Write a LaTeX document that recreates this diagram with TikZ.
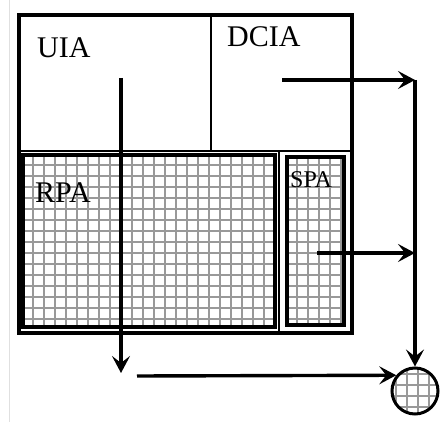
\documentclass[tikz,border=0pt]{standalone}
\usepackage{fontspec}
\setmainfont{Liberation Serif}
\usetikzlibrary{arrows.meta}
\begin{document}
\begin{tikzpicture}[x=1pt,y=-1pt,
  frame/.style={draw=black,line width=3.2pt,inner sep=0pt,outer sep=0pt,anchor=north west},
  inbox/.style={draw=black,line width=3.2pt,inner sep=0pt,outer sep=0pt,anchor=north west},
  divider/.style={draw=black,line width=2.6pt},
  gridline/.style={draw=black!40,line width=1.3pt},
  lbl/.style={inner sep=0pt,anchor=base west,font=\fontsize{30}{30}\selectfont},
  arr/.style={draw=black,line width=3.4pt,-{Stealth[length=17pt,width=18pt,inset=7pt]}}]
\useasboundingbox (0,0) rectangle (440,422);
\fill[white] (0,0) rectangle (440,422);
\draw[black!12,line width=0.8pt] (9,0) -- (9,422);

% grids
\begin{scope}
  \clip (23,155) rectangle (275,327);
  \draw[gridline] (0,422) grid[step=11pt] (440,0);
\end{scope}
\begin{scope}
  \clip (287,157) rectangle (344,325);
  \draw[gridline] (0,422) grid[step=11pt] (440,0);
\end{scope}
\begin{scope}
  \clip (415,391) circle[radius=23];
  \draw[gridline] (0,422) grid[step=11pt] (440,0);
\end{scope}

% boxes
\node[frame,minimum width=333pt,minimum height=318pt] (outer) at (19,15) {};
\node[inbox,minimum width=252pt,minimum height=172pt] (rpa) at (23,155) {};
\node[inbox,minimum width=57pt,minimum height=168pt] (spa) at (287,157) {};
\node[draw=black,line width=3pt,circle,minimum size=46pt,inner sep=0pt] (circ) at (415,391) {};

% dividers
\coordinate (d1a) at (19,151);
\coordinate (d1b) at (352,151);
\draw[divider] (d1a) -- (d1b);
\coordinate (d2a) at (211,15);
\coordinate (d2b) at (211,151);
\draw[divider] (d2a) -- (d2b);
\coordinate (d3a) at (279,151);
\coordinate (d3b) at (279,333);
\draw[divider] (d3a) -- (d3b);

% labels
\node[lbl] (uia) at (37,58) {UIA};
\node[lbl] (dcia) at (227,47) {DCIA};
\node[lbl] (rpal) at (35,203) {RPA};
\node[lbl,font=\fontsize{24}{24}\selectfont] (spal) at (290,188) {SPA};

% connectors
\coordinate (uS) at (121,78);
\coordinate (uE) at (121,373);
\draw[arr] (uS) -- (uE);

\coordinate (bS) at (137,376);
\draw[arr] (bS) -- (circ.140);

\coordinate (dS) at (282,80);
\coordinate (corner) at (415,80);
\draw[arr] (dS) -- (corner);
\draw[arr] (corner) -- (circ.north);

\coordinate (sS) at (317,253);
\draw[arr] (sS) -- (sS -| corner);
\end{tikzpicture}
\end{document}
